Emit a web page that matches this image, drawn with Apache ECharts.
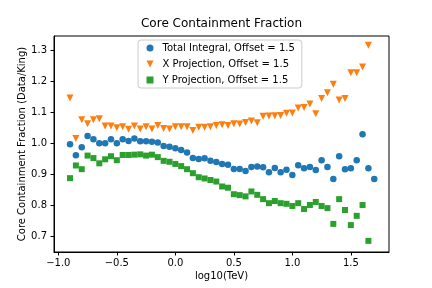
<!DOCTYPE html>
<html>
<head>
<meta charset="utf-8">
<script src="https://cdn.jsdelivr.net/npm/echarts@6/dist/echarts.min.js"></script>
<style>
html,body{margin:0;padding:0;background:#fff;}
#c{width:432px;height:288px;}
</style>
</head>
<body>
<div id="c"></div>
<script>
const logE = [-0.90,-0.85,-0.80,-0.75,-0.70,-0.65,-0.60,-0.55,-0.50,-0.45,
  -0.40,-0.35,-0.30,-0.25,-0.20,-0.15,-0.10,-0.05,0.00,0.05,
  0.10,0.15,0.20,0.25,0.30,0.35,0.40,0.45,0.50,0.55,
  0.60,0.65,0.70,0.75,0.80,0.85,0.90,0.95,1.00,1.05,
  1.10,1.15,1.20,1.25,1.30,1.35,1.40,1.45,1.50,1.55,
  1.60,1.65,1.70];

const totalIntegral = [0.997,0.961,0.987,1.023,1.013,1.000,1.000,1.013,1.000,1.013,
  1.007,1.015,1.006,1.006,1.005,1.002,0.991,0.989,0.984,0.978,
  0.970,0.952,0.949,0.951,0.943,0.939,0.933,0.930,0.917,0.917,
  0.910,0.923,0.925,0.922,0.906,0.920,0.906,0.914,0.897,0.929,
  0.919,0.923,0.913,0.945,0.923,0.884,0.958,0.916,0.919,0.945,
  1.029,0.919,0.884];

const xProjection = [1.146,1.015,1.076,1.063,1.076,1.079,1.056,1.056,1.050,1.053,
  1.045,1.056,1.046,1.053,1.046,1.057,1.048,1.046,1.053,1.053,
  1.053,1.041,1.052,1.052,1.053,1.057,1.060,1.057,1.063,1.062,
  1.067,1.072,1.066,1.087,1.088,1.089,1.090,1.097,1.098,1.114,
  1.116,1.127,1.095,1.145,1.163,1.191,1.140,1.145,1.228,1.228,
  1.247,1.317];

const yProjection = [0.887,0.928,0.916,0.960,0.952,0.935,0.948,0.958,0.945,0.962,
  0.962,0.963,0.964,0.960,0.963,0.955,0.943,0.940,0.933,0.926,
  0.916,0.903,0.890,0.886,0.881,0.876,0.860,0.856,0.835,0.832,
  0.828,0.844,0.833,0.819,0.806,0.813,0.806,0.804,0.797,0.806,
  0.787,0.800,0.810,0.797,0.790,0.739,0.819,0.784,0.735,0.765,
  0.800,0.684];

const seriesNames = ['Total Integral, Offset = 1.5','X Projection, Offset = 1.5','Y Projection, Offset = 1.5'];
const xTicks = [-1.0,-0.5,0.0,0.5,1.0,1.5];
const yTicks = [0.7,0.8,0.9,1.0,1.1,1.2,1.3];

const pair = arr => arr.map((v,i) => [logE[i], v]);
const fmt = v => (v < 0 ? '\u2212' : '') + Math.abs(v).toFixed(1);
const FONT = 'DejaVu Sans';
const downTri = 'path://M0,0L2,0L1,2Z';

const chart = echarts.init(document.getElementById('c'), null, {renderer:'canvas'});
chart.setOption({
  animation: false,
  backgroundColor: '#ffffff',
  title: {
    text: 'Core Containment Fraction',
    left: 221.5, top: 18, textAlign: 'center', padding: 0,
    textStyle: {fontFamily: FONT, fontSize: 12, fontWeight: 'normal', color: '#000'}
  },
  grid: {left: 54, top: 36, right: 43, bottom: 36, show: true, borderColor: '#000', borderWidth: 1, backgroundColor: 'transparent'},
  legend: {
    orient: 'vertical', left: 138, top: 40,
    padding: [2, 7, 2, 8.5], itemGap: 4,
    itemWidth: 7, itemHeight: 7,
    backgroundColor: 'rgba(255,255,255,0.8)', borderColor: '#cccccc', borderWidth: 1, borderRadius: 3,
    textStyle: {fontFamily: FONT, fontSize: 10, color: '#000', lineHeight: 12, padding: [0,0,0,4]},
    data: [
      {name: seriesNames[0], icon: 'circle'},
      {name: seriesNames[1], icon: downTri},
      {name: seriesNames[2], icon: 'rect'}
    ]
  },
  xAxis: {
    type: 'value', min: -1.037, max: 1.826,
    name: 'log10(TeV)', nameLocation: 'middle', nameGap: 19, nameMoveOverlap: false,
    nameTextStyle: {fontFamily: FONT, fontSize: 10, color: '#000'},
    axisLine: {show: true, onZero: false, lineStyle: {color: '#000', width: 1}},
    axisTick: {show: true, customValues: xTicks, length: 3.5, inside: false, lineStyle: {color: '#000', width: 1}},
    axisLabel: {customValues: xTicks, formatter: fmt, margin: 6, fontFamily: FONT, fontSize: 10, color: '#000'},
    splitLine: {show: false}
  },
  yAxis: {
    type: 'value', min: 0.648, max: 1.347,
    name: 'Core Containment Fraction (Data/King)', nameLocation: 'middle', nameGap: 27, nameRotate: 90, nameMoveOverlap: false,
    nameTextStyle: {fontFamily: FONT, fontSize: 10, color: '#000'},
    axisLine: {show: true, onZero: false, lineStyle: {color: '#000', width: 1}},
    axisTick: {show: true, customValues: yTicks, length: 3.5, inside: false, lineStyle: {color: '#000', width: 1}},
    axisLabel: {customValues: yTicks, formatter: v => v.toFixed(1), margin: 7, fontFamily: FONT, fontSize: 10, color: '#000'},
    splitLine: {show: false}
  },
  series: [
    {name: seriesNames[0], type: 'scatter', symbol: 'circle', symbolSize: 6.5,
     itemStyle: {color: '#1f77b4', opacity: 1}, data: pair(totalIntegral)},
    {name: seriesNames[1], type: 'scatter', symbol: 'triangle', symbolRotate: 180, symbolSize: 7,
     itemStyle: {color: '#ff7f0e', opacity: 1}, data: pair(xProjection)},
    {name: seriesNames[2], type: 'scatter', symbol: 'rect', symbolSize: 6,
     itemStyle: {color: '#2ca02c', opacity: 1}, data: pair(yProjection)}
  ]
});
</script>
</body>
</html>
